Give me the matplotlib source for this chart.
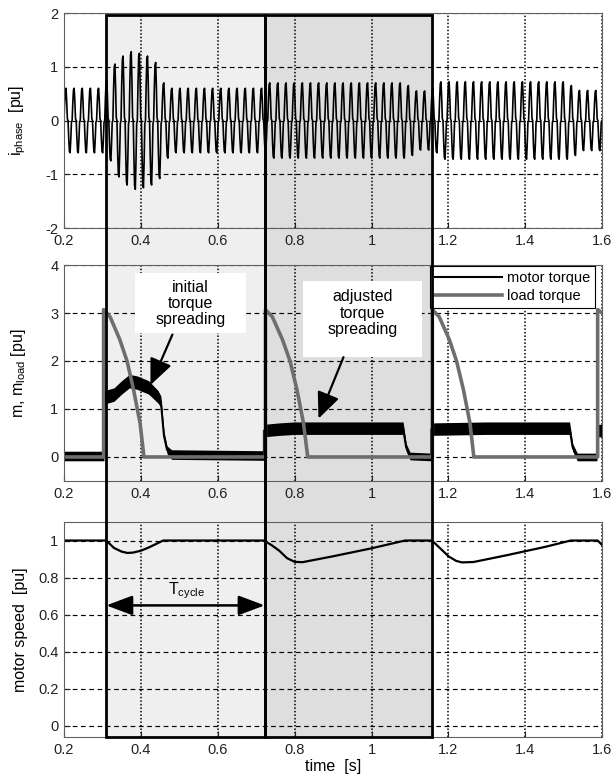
import numpy as np
import matplotlib
matplotlib.use("Agg")
import matplotlib.pyplot as plt
from matplotlib.patches import Rectangle
from matplotlib.transforms import blended_transform_factory

plt.rcParams['font.family'] = ['Liberation Sans', 'DejaVu Sans']

# ---------------- data ----------------
# phase current: one period shape (normalised) and the peak amplitude of each period
ph_t0 = 0.2
ph_period = 0.0212
ph_shape = [0.0, 0.55, 0.95, 1.0, 0.6, 0.05, 0.0, -0.55, -0.95, -1.0, -0.6, -0.05]
ph_amp = [0.6, 0.6, 0.6, 0.6, 0.6,
          0.75, 1.05, 1.2, 1.28, 1.25, 1.2, 1.08, 0.7,
          0.6, 0.6, 0.6, 0.6, 0.6, 0.6, 0.6, 0.6, 0.6, 0.6, 0.6, 0.6,
          0.7, 0.7, 0.7, 0.7, 0.7, 0.7, 0.7, 0.7, 0.7, 0.7, 0.7, 0.7, 0.7, 0.7, 0.7, 0.7, 0.7,
          0.65, 0.55, 0.55, 0.6,
          0.72, 0.72, 0.72, 0.72, 0.72, 0.72, 0.72, 0.72, 0.72, 0.72, 0.72, 0.72, 0.72, 0.72, 0.72, 0.72,
          0.65, 0.56, 0.56, 0.56, 0.56]

# motor torque (noisy band: centre and half width)
mt_t = [0.2, 0.304, 0.304, 0.33, 0.35, 0.37, 0.39, 0.42, 0.445, 0.452, 0.46, 0.468, 0.48,
        0.72, 0.72, 0.76, 0.80, 0.9, 1.0, 1.082, 1.09, 1.10, 1.155, 1.155, 1.3, 1.4,
        1.515, 1.523, 1.535, 1.586, 1.59, 1.6]
mt_mid = [0.02, 0.02, 1.24, 1.3, 1.45, 1.58, 1.55, 1.45, 1.25, 1.15, 0.45, 0.15, 0.05,
          0.03, 0.55, 0.58, 0.6, 0.6, 0.6, 0.6, 0.2, 0.02, 0.0, 0.58, 0.6, 0.6,
          0.6, 0.2, 0.0, 0.0, 0.55, 0.55]
mt_spread = [0.1, 0.1, 0.14, 0.14, 0.14, 0.14, 0.14, 0.14, 0.13, 0.12, 0.08, 0.08, 0.1,
             0.1, 0.13, 0.13, 0.13, 0.13, 0.13, 0.13, 0.08, 0.08, 0.08, 0.13, 0.13, 0.13,
             0.13, 0.08, 0.08, 0.08, 0.13, 0.13]

# load torque
lt_t = [0.2, 0.303, 0.303, 0.32, 0.345, 0.364, 0.381, 0.398, 0.408,
        0.724, 0.724, 0.742, 0.768, 0.788, 0.806, 0.823, 0.834,
        1.158, 1.158, 1.176, 1.202, 1.221, 1.239, 1.256, 1.266,
        1.588, 1.588, 1.6]
lt_v = [0.0, 0.0, 3.07, 2.92, 2.45, 2.0, 1.4, 0.7, 0.0,
        0.0, 3.07, 2.92, 2.45, 2.0, 1.4, 0.7, 0.0,
        0.0, 3.07, 2.92, 2.45, 2.0, 1.4, 0.7, 0.0,
        0.0, 3.07, 3.0]

# motor speed
sp_t = [0.2, 0.31, 0.33, 0.35, 0.365, 0.38, 0.40, 0.42, 0.44, 0.458, 0.72, 0.74, 0.76,
        0.78, 0.80, 0.82, 0.9, 1.0, 1.087, 1.157, 1.18, 1.20, 1.22, 1.235, 1.265, 1.35,
        1.45, 1.518, 1.588, 1.6]
sp_v = [1.0, 1.0, 0.96, 0.94, 0.933, 0.935, 0.945, 0.962, 0.982, 1.0, 1.0, 0.975, 0.945,
        0.905, 0.885, 0.883, 0.915, 0.958, 1.0, 1.0, 0.955, 0.915, 0.89, 0.882, 0.884, 0.92,
        0.965, 1.0, 1.0, 0.975]

# shaded cycles
cycles = [(0.31, 0.722, '#efefef'), (0.722, 1.157, '#dedede')]

x_ticks = [0.2, 0.4, 0.6, 0.8, 1.0, 1.2, 1.4, 1.6]
x_labels = ['0.2', '0.4', '0.6', '0.8', '1', '1.2', '1.4', '1.6']

# ---------------- build phase current trace ----------------
ph_x, ph_y = [], []
for k, a in enumerate(ph_amp):
    for j, s in enumerate(ph_shape):
        t = ph_t0 + ph_period * (k + j / len(ph_shape))
        if t <= 1.6:
            ph_x.append(t)
            ph_y.append(a * s)

# ---------------- figure ----------------
fig = plt.figure(figsize=(6.11, 7.74), dpi=100)
L, W = 0.1047, 0.881
ax1 = fig.add_axes([L, 0.7054, W, 0.2778])
ax2 = fig.add_axes([L, 0.3786, W, 0.2790])
ax3 = fig.add_axes([L, 0.0478, W, 0.2778])

def style(ax, yticks, ylabels, ylim):
    ax.set_facecolor('none')
    ax.set_xlim(0.2, 1.6)
    ax.set_ylim(*ylim)
    ax.set_xticks(x_ticks)
    ax.set_xticklabels(x_labels)
    ax.set_yticks(yticks)
    ax.set_yticklabels(ylabels)
    ax.tick_params(direction='in', length=4, width=0.8, labelsize=10.5,
                   colors='#222222', pad=4)
    ax.xaxis.grid(True, linestyle=(0, (1.0, 1.3)), color='k', lw=1.1)
    ax.yaxis.grid(True, linestyle=(0, (4, 3)), color='k', lw=0.85)
    ax.set_axisbelow(True)
    for sp in ax.spines.values():
        sp.set_color('#606060')
        sp.set_linewidth(0.8)

style(ax1, [-2, -1, 0, 1, 2], ['-2', '-1', '0', '1', '2'], (-2, 2))
style(ax2, [0, 1, 2, 3, 4], ['0', '1', '2', '3', '4'], (-0.5, 4))
style(ax3, [0, 0.2, 0.4, 0.6, 0.8, 1.0], ['0', '0.2', '0.4', '0.6', '0.8', '1'], (-0.06, 1.1))

# shaded cycle rectangles spanning all three panels
tr = blended_transform_factory(ax3.transData, fig.transFigure)
y0, y1 = 0.0478, 0.9806
for a, b, c in cycles:
    fig.add_artist(Rectangle((a, y0), b - a, y1 - y0, transform=tr,
                             facecolor=c, edgecolor='none', zorder=-1))
    fig.add_artist(Rectangle((a, y0), b - a, y1 - y0, transform=tr,
                             fill=False, edgecolor='k', lw=2.0, zorder=5))

# phase current
ax1.plot(ph_x, ph_y, color='k', lw=1.2)
ax1.set_ylabel(r'$\mathregular{i_{phase}}$  [pu]', fontsize=11.5)

# torques
mt_mid_a = np.array(mt_mid)
mt_sp_a = np.array(mt_spread)
ax2.fill_between(mt_t, mt_mid_a - mt_sp_a, mt_mid_a + mt_sp_a, color='k', lw=0)
ax2.plot(mt_t, mt_mid, color='k', lw=1.5, label='motor torque')
ax2.plot(lt_t, lt_v, color='#6e6e6e', lw=2.6, label='load torque')
ax2.set_ylabel(r'm, $\mathregular{m_{load}}$ [pu]', fontsize=11.5)
leg = ax2.legend(loc='upper right', bbox_to_anchor=(1.0, 1.03), fontsize=10.5,
                 frameon=True, fancybox=False, edgecolor='k', framealpha=1,
                 handlelength=4.6, borderpad=0.35, labelspacing=0.3, handletextpad=0.3)
leg.get_frame().set_linewidth(0.8)

ax2.add_patch(Rectangle((0.386, 2.58), 0.288, 1.25, facecolor='white',
                        edgecolor='none', zorder=3))
ax2.text(0.529, 3.2, 'initial\ntorque\nspreading', ha='center', va='center',
         fontsize=11.5, linespacing=1.1, zorder=4)
ax2.annotate('', xy=(0.425, 1.5), xytext=(0.482, 2.55),
             arrowprops=dict(arrowstyle='-|>,head_length=0.8,head_width=0.35',
                             color='k', lw=1.6, mutation_scale=20,
                             shrinkA=0, shrinkB=0), zorder=6)

ax2.add_patch(Rectangle((0.822, 2.08), 0.309, 1.59, facecolor='white',
                        edgecolor='none', zorder=3))
ax2.text(0.976, 3.0, 'adjusted\ntorque\nspreading', ha='center', va='center',
         fontsize=11.5, linespacing=1.1, zorder=4)
ax2.annotate('', xy=(0.862, 0.8), xytext=(0.927, 2.08),
             arrowprops=dict(arrowstyle='-|>,head_length=0.8,head_width=0.35',
                             color='k', lw=1.6, mutation_scale=20,
                             shrinkA=0, shrinkB=0), zorder=6)

# motor speed
ax3.plot(sp_t, sp_v, color='k', lw=1.6)
ax3.set_ylabel('motor speed  [pu]', fontsize=11.5)
ax3.set_xlabel('time  [s]', fontsize=11.5, labelpad=2)
ax3.annotate('', xy=(0.31, 0.65), xytext=(0.722, 0.65),
             arrowprops=dict(arrowstyle='<|-|>,head_length=0.8,head_width=0.3',
                             color='k', lw=1.8, mutation_scale=20,
                             shrinkA=0, shrinkB=0))
ax3.text(0.519, 0.73, r'$\mathregular{T_{cycle}}$', ha='center', va='center', fontsize=11.5)

for ax in (ax1, ax2, ax3):
    ax.yaxis.set_label_coords(-0.066, 0.5)

fig.savefig('out.png', dpi=100)
